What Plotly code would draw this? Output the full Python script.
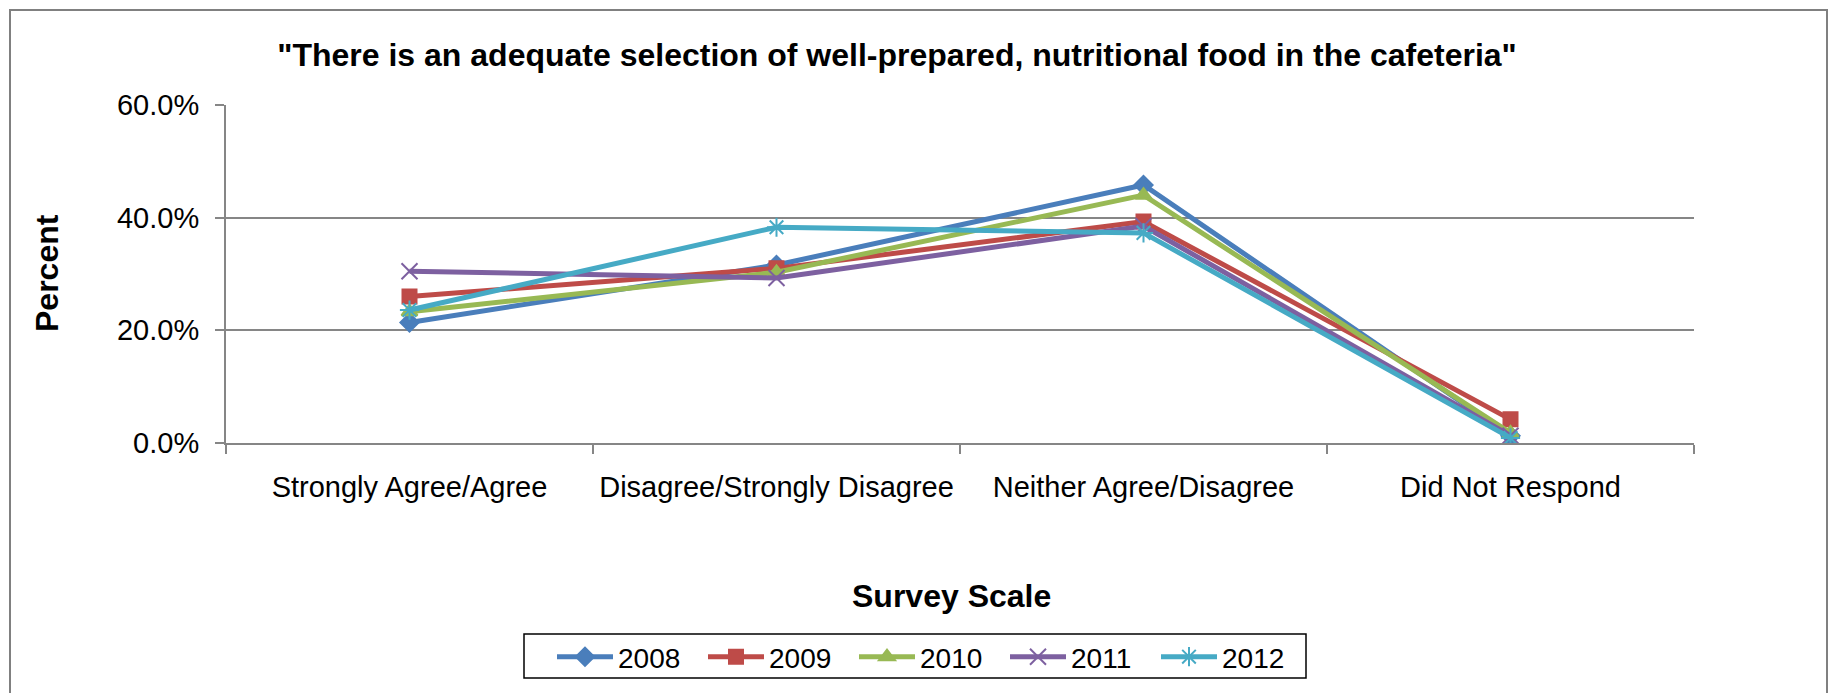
import plotly.graph_objects as go

categories = ["Strongly Agree/Agree", "Disagree/Strongly Disagree", "Neither Agree/Disagree", "Did Not Respond"]
series_names = ["2008", "2009", "2010", "2011", "2012"]
v2008 = [21.4, 31.6, 45.8, 1.3]
v2009 = [26.0, 31.0, 39.3, 4.2]
v2010 = [23.3, 30.3, 44.0, 1.8]
v2011 = [30.5, 29.3, 38.5, 1.3]
v2012 = [23.6, 38.3, 37.3, 0.9]
y_ticks = [0, 20, 40, 60]

values = [v2008, v2009, v2010, v2011, v2012]
colors = ["#4A7EBB", "#BE4B48", "#98B954", "#7D60A0", "#46AAC5"]
symbols = ["diamond", "square", "triangle-up", "x-thin-open", "asterisk-open"]
sizes = [14, 14, 14, 16, 16]

W, H = 1837, 693
OFF = 8  # body margin of the html page
FW, FH = W - 2 * OFF, H - OFF
L, R, T, B = 226, 1694, 105, 443  # plot area in page pixels
pw, ph = R - L, B - T

def px(x):
    return (x - L) / pw

def py(y):
    return (B - y) / ph

FONT = "Liberation Sans, Arial, sans-serif"

fig = go.Figure()
for name, vals, c, s, sz in zip(series_names, values, colors, symbols, sizes):
    fig.add_trace(go.Scatter(
        x=categories, y=vals, name=name, mode="lines+markers",
        line=dict(color=c, width=5),
        marker=dict(symbol=s, size=sz, color=c, line=dict(color=c, width=2)),
    ))

fig.update_layout(
    width=FW, height=FH,
    margin=dict(l=L - OFF, r=FW - (R - OFF), t=T - OFF, b=FH - (B - OFF), autoexpand=False),
    paper_bgcolor="white", plot_bgcolor="white",
    font=dict(family=FONT, size=29, color="black"),
    showlegend=True,
    legend=dict(orientation="h", x=px(929.5), y=py(657), xanchor="center", yanchor="middle",
                borderwidth=0, font=dict(size=28, family=FONT),
                itemwidth=56, entrywidth=80, entrywidthmode="pixels",
                tracegroupgap=0, itemsizing="trace", bgcolor="rgba(0,0,0,0)"),
    title=dict(text='"There is an adequate selection of well-prepared, nutritional food in the cafeteria"',
               x=(897 - OFF) / FW, xref="container", xanchor="center",
               y=1 - (55 - OFF) / FH, yref="container", yanchor="middle",
               font=dict(size=32, family=FONT, weight="bold")),
)

fig.update_xaxes(
    type="category", range=[-0.5, 3.5],
    showline=True, linecolor="#868686", linewidth=2,
    ticks="outside", tickson="boundaries", ticklen=9, tickcolor="#868686", tickwidth=2,
    showgrid=False, ticklabelstandoff=17,
    tickfont=dict(size=29, family=FONT),
)
fig.update_yaxes(
    range=[0, 60], tickvals=y_ticks, ticktext=[f"{v:.1f}%" for v in y_ticks],
    showline=True, linecolor="#868686", linewidth=2,
    ticks="outside", ticklen=9, tickcolor="#868686", tickwidth=2,
    showgrid=True, gridcolor="#868686", gridwidth=1.5,
    zeroline=False, ticklabelstandoff=10,
    tickfont=dict(size=29, family=FONT),
)

fig.add_annotation(text="<b>Percent</b>", textangle=-90, xref="paper", yref="paper",
                   x=px(47), y=py(273), xanchor="center", yanchor="middle",
                   showarrow=False, font=dict(size=32, family=FONT))
fig.add_annotation(text="<b>Survey Scale</b>", xref="paper", yref="paper",
                   x=px(951), y=py(596), xanchor="center", yanchor="middle",
                   showarrow=False, font=dict(size=32, family=FONT))

# outer chart border
fig.add_shape(type="rect", xref="paper", yref="paper",
              x0=px(10), x1=px(1827), y0=py(720), y1=py(10),
              line=dict(color="#808080", width=2), fillcolor="rgba(0,0,0,0)", layer="below")
# legend box
fig.add_shape(type="rect", xref="paper", yref="paper",
              x0=px(524), x1=px(1306), y0=py(678), y1=py(634),
              line=dict(color="black", width=1.5), fillcolor="rgba(0,0,0,0)", layer="below")

fig.write_html("out.html")
